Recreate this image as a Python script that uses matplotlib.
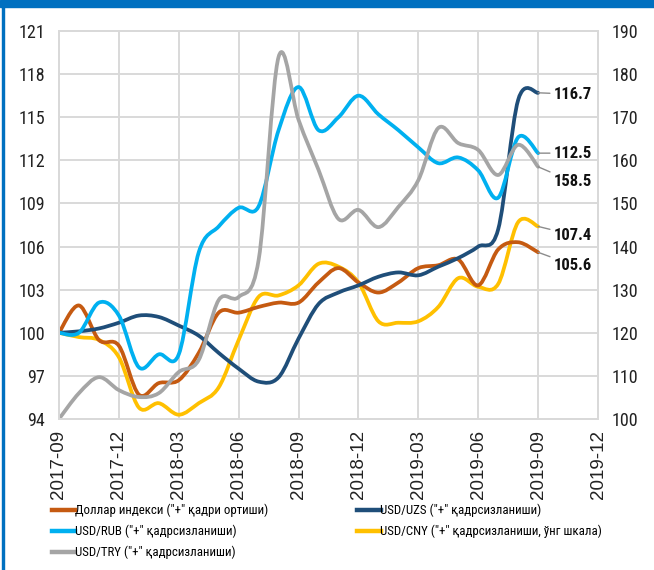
import matplotlib.pyplot as plt
import numpy as np
from matplotlib import font_manager
from matplotlib.path import Path
from matplotlib.patches import PathPatch, Rectangle
from matplotlib.lines import Line2D

# Monthly index values, 2017-09 .. 2019-09
dxy = [100.0, 101.9, 99.5, 99.1, 95.7, 96.5, 96.7, 98.6, 101.4, 101.4, 101.8, 102.1, 102.1,
       103.5, 104.5, 103.5, 102.8, 103.5, 104.5, 104.7, 105.1, 103.3, 105.8, 106.3, 105.6]
uzs = [100.0, 100.1, 100.3, 100.7, 101.2, 101.1, 100.5, 99.8, 98.6, 97.5, 96.6, 96.9, 99.6,
       102.0, 102.8, 103.3, 103.9, 104.2, 104.0, 104.6, 105.2, 106.0, 107.2, 116.2, 116.7]
rub = [100.0, 100.0, 102.1, 101.2, 97.6, 98.5, 98.5, 105.6, 107.4, 108.7, 108.8, 114.1, 117.1,
       114.1, 115.0, 116.5, 115.2, 114.1, 112.9, 111.8, 112.2, 111.3, 109.4, 113.6, 112.5]
cny = [100.0, 99.7, 99.5, 98.3, 94.8, 95.1, 94.3, 95.1, 96.2, 99.5, 102.5, 102.6, 103.3,
       104.8, 104.6, 103.5, 100.8, 100.7, 100.8, 101.8, 103.8, 103.2, 103.4, 107.7, 107.4]
# right scale
try_ = [100.0, 106.0, 109.7, 106.7, 105.1, 106.0, 110.9, 113.7, 127.6, 128.3, 136.9, 184.0, 169.4,
        157.8, 146.4, 148.5, 144.5, 149.2, 155.4, 167.5, 164.0, 162.4, 156.6, 163.6, 158.5]

month_labels = ['2017-09', '2017-12', '2018-03', '2018-06', '2018-09',
                '2018-12', '2019-03', '2019-06', '2019-09', '2019-12']
left_ticks = [94, 97, 100, 103, 106, 109, 112, 115, 118, 121]
right_ticks = [100, 110, 120, 130, 140, 150, 160, 170, 180, 190]

names = ['Доллар индекси ("+" қадри ортиши)', 'USD/RUB ("+" қадрсизланиши)',
         'USD/TRY ("+" қадрсизланиши)', 'USD/UZS ("+" қадрсизланиши)',
         'USD/CNY ("+" қадрсизланиши, ўнг шкала)']
colors = ['#C55A11', '#00B0F0', '#A5A5A5', '#1F4E79', '#FFC000']

# look for a narrow sans font, the source uses a condensed Arial look
installed = {(f.name, f.stretch) for f in font_manager.fontManager.ttflist}
fam_names = {f.name for f in font_manager.fontManager.ttflist}
narrow_fp = None
for cand in ['Liberation Sans Narrow', 'Arial Narrow', 'Roboto Condensed',
             'Open Sans Condensed', 'Noto Sans Condensed']:
    if cand in fam_names:
        narrow_fp = dict(family=[cand, 'DejaVu Sans'])
        break
if narrow_fp is None:
    for name, st in installed:
        if name in ('DejaVu Sans', 'Noto Sans', 'Open Sans', 'Roboto') and \
                str(st) in ('condensed', 'semi-condensed', '300', '400'):
            narrow_fp = dict(family=[name], stretch='condensed')
            break
found_narrow = narrow_fp is not None
if narrow_fp is None:
    narrow_fp = dict(family=['Liberation Sans', 'DejaVu Sans'])
shrink = 1.0 if found_narrow else 0.82


def smooth_path(y):
    # Excel-style smoothed line: cubic Bezier through every data point
    x = np.arange(len(y), dtype=float)
    p = np.column_stack([x, np.asarray(y, dtype=float)])
    verts = [p[0]]
    codes = [Path.MOVETO]
    n = len(p)
    for i in range(n - 1):
        p0 = p[max(i - 1, 0)]
        p3 = p[min(i + 2, n - 1)]
        c1 = p[i] + (p[i + 1] - p0) / 6.0
        c2 = p[i + 1] - (p3 - p[i]) / 6.0
        verts += [c1, c2, p[i + 1]]
        codes += [Path.CURVE4] * 3
    return Path(verts, codes)


W, H = 654, 570
fig = plt.figure(figsize=(W / 100, H / 100), dpi=100)
ax = fig.add_axes([59 / W, 1 - 419 / H, (598 - 59) / W, (419 - 31) / H])
ax2 = ax.twinx()

grid_c = '#D9D9D9'
ax.set_xlim(0, 27)
ax.set_ylim(94, 121)
ax2.set_ylim(100, 190)
ax.set_xticks(np.arange(0, 28, 3))
ax.set_xticklabels(month_labels, rotation=90, fontsize=13.5, family=['Liberation Sans', 'DejaVu Sans'])
ax.set_yticks(left_ticks)
ax.set_yticklabels([str(t) for t in left_ticks], fontsize=13 * shrink, **narrow_fp)
ax2.set_yticks(right_ticks)
ax2.set_yticklabels([str(t) for t in right_ticks], fontsize=13 * shrink, **narrow_fp)
ax.grid(True, color=grid_c, linewidth=1.4)
ax.set_axisbelow(True)
for a in (ax, ax2):
    a.tick_params(length=0, colors='#222222')
    for s in a.spines.values():
        s.set_color(grid_c)
        s.set_linewidth(1.4)
ax.tick_params(axis='y', pad=10)
ax.tick_params(axis='x', pad=8)
ax2.tick_params(axis='y', pad=10)

lw = 2.7
for data, c, a in [(cny, colors[4], ax), (dxy, colors[0], ax), (uzs, colors[3], ax),
                   (rub, colors[1], ax)]:
    a.add_patch(PathPatch(smooth_path(data), fill=False, edgecolor=c, linewidth=lw,
                          capstyle='round', joinstyle='round'))
ax2.add_patch(PathPatch(smooth_path(try_), fill=False, edgecolor=colors[2], linewidth=lw,
                        capstyle='round', joinstyle='round'))

# end-of-line value labels
last = len(dxy) - 1
lab_x = 24.8
lab_kw = dict(fontsize=12 * shrink, fontweight='bold', va='center', ha='left',
              color='#111111',
              arrowprops=dict(arrowstyle='-', color='#8C8C8C', lw=1.0, shrinkA=1, shrinkB=0),
              **narrow_fp)
ax.annotate(f'{uzs[-1]:.1f}', xy=(last, uzs[-1]), xytext=(lab_x, uzs[-1] - 0.1), **lab_kw)
ax.annotate(f'{rub[-1]:.1f}', xy=(last, rub[-1]), xytext=(lab_x, rub[-1]), **lab_kw)
ax2.annotate(f'{try_[-1]:.1f}', xy=(last, try_[-1]), xytext=(lab_x, 155.0), **lab_kw)
ax.annotate(f'{cny[-1]:.1f}', xy=(last, cny[-1]), xytext=(lab_x, 106.8), **lab_kw)
ax.annotate(f'{dxy[-1]:.1f}', xy=(last, dxy[-1]), xytext=(lab_x, 104.7), **lab_kw)

handles = [Line2D([], [], color=c, linewidth=3.2) for c in colors]
leg_prop = dict(size=9.3 * (1.0 if found_narrow else 0.8), **narrow_fp)
leg = fig.legend(handles, names, ncol=2, loc='upper left',
                 bbox_to_anchor=(40 / W, 1 - 492 / H),
                 frameon=False, handlelength=1.8, handletextpad=0.0,
                 columnspacing=6.9, labelspacing=0.6, prop=leg_prop)

# blue frame of the source slide
fig.patches.append(Rectangle((0, 1 - 7 / H), 1, 7 / H, transform=fig.transFigure,
                             color='#0070C0', zorder=10))
fig.patches.append(Rectangle((2 / W, 0), 2 / W, 1, transform=fig.transFigure,
                             color='#0070C0', zorder=10))

fig.savefig('out.png', dpi=100, facecolor='white')
